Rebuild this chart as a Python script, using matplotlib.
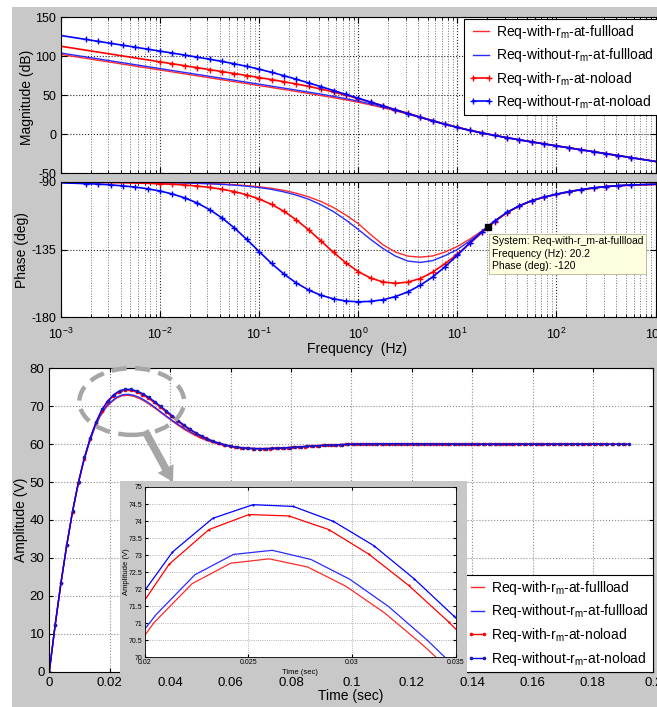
import numpy as np
import matplotlib
matplotlib.use("Agg")
import matplotlib.pyplot as plt
from matplotlib.patches import Rectangle, Ellipse
from matplotlib.lines import Line2D
from matplotlib.ticker import LogLocator, NullFormatter, MultipleLocator, FuncFormatter

plt.rcParams.update({
    "font.family": ["Liberation Sans", "DejaVu Sans"],
    "mathtext.fontset": "custom",
    "mathtext.rm": "Liberation Sans",
    "mathtext.it": "Liberation Sans",
    "mathtext.default": "regular",
    "axes.unicode_minus": False,
})

# ---------------------------------------------------------------- data
labels = [
    "Req-with-r$_{m}$-at-fullload",
    "Req-without-r$_{m}$-at-fullload",
    "Req-with-r$_{m}$-at-noload",
    "Req-without-r$_{m}$-at-noload",
]

# Bode data, one point every 1/8 decade from 1e-3 Hz to 1e3 Hz
freq_hz = np.logspace(-3, 3, 49)

mag_with_full = [102.3, 99.8, 97.3, 94.8, 92.3, 89.8, 87.3, 84.8, 82.3, 79.8,
                 77.3, 74.8, 72.3, 69.8, 67.29, 64.79, 62.28, 59.77, 57.24, 54.70,
                 52.13, 49.50, 46.77, 43.90, 40.84, 37.48, 33.80, 29.79, 25.54, 21.15,
                 16.75, 12.48, 8.44, 4.70, 1.31, -1.81, -4.69, -7.43, -10.06, -12.64,
                 -15.19, -17.62, -20.13, -22.64, -25.14, -27.65, -30.15, -32.65, -35.15]
mag_without_full = [104.1, 101.6, 99.1, 96.6, 94.1, 91.6, 89.1, 86.6, 84.1, 81.6,
                    79.1, 76.6, 74.1, 71.6, 69.09, 66.59, 64.08, 61.56, 59.03, 56.47,
                    53.88, 51.21, 48.43, 45.47, 42.28, 38.76, 34.91, 30.75, 26.37, 21.87,
                    17.38, 13.02, 8.88, 5.05, 1.56, -1.62, -4.55, -7.32, -9.98, -12.58,
                    -15.13, -17.66, -20.18, -22.69, -25.19, -27.70, -30.20, -32.70, -35.20]
mag_with_no = [112.8, 110.3, 107.8, 105.3, 102.8, 100.3, 97.8, 95.3, 92.8, 90.3,
               87.79, 85.29, 82.78, 80.27, 77.74, 75.2, 72.62, 69.98, 67.24, 64.35,
               61.23, 57.81, 54.05, 49.93, 45.55, 40.95, 36.21, 31.42, 26.62, 21.87,
               17.25, 12.84, 8.70, 4.91, 1.47, -1.67, -4.58, -7.32, -9.97, -12.55,
               -15.10, -17.63, -20.14, -22.65, -25.16, -27.66, -30.16, -32.66, -35.16]
mag_without_no = [126.6, 124.1, 121.6, 119.1, 116.6, 114.09, 111.58, 109.07, 106.55, 104.01,
                  101.45, 98.83, 96.13, 93.30, 90.27, 86.96, 83.31, 79.31, 74.99, 70.43,
                  65.69, 60.85, 55.94, 50.99, 46.05, 41.10, 36.15, 31.23, 26.37, 21.60,
                  16.98, 12.58, 8.47, 4.72, 1.31, -1.80, -4.68, -7.41, -10.05, -12.63,
                  -15.17, -17.70, -20.21, -22.72, -25.22, -27.73, -30.23, -32.73, -35.23]

ph_with_full = [-90.0, -90.0, -90.1, -90.1, -90.1, -90.1, -90.2, -90.2, -90.3, -90.4,
                -90.6, -90.75, -91.0, -91.3, -91.8, -92.4, -93.2, -94.2, -95.6, -97.5,
                -99.9, -103.0, -107.0, -112.0, -117.7, -125.0, -131.8, -136.6, -139.3, -140.0,
                -139.2, -136.6, -132.9, -128.0, -122.5, -116.2, -110.3, -105.9, -102.5, -100.1,
                -98.2, -96.5, -95.1, -94.0, -93.1, -92.5, -92.1, -91.8, -91.6]
ph_without_full = [-90.0, -90.1, -90.1, -90.1, -90.1, -90.2, -90.2, -90.3, -90.4, -90.5,
                   -90.7, -90.9, -91.2, -91.6, -92.1, -92.8, -93.7, -94.9, -96.6, -98.7,
                   -101.5, -105.2, -109.7, -115.3, -121.6, -128.2, -134.3, -139.3, -142.6, -143.5,
                   -142.3, -139.0, -134.9, -129.2, -123.0, -116.1, -110.3, -105.8, -102.4, -100.0,
                   -98.1, -96.4, -95.0, -93.9, -93.0, -92.4, -92.0, -91.7, -91.5]
ph_with_no = [-90.1, -90.2, -90.2, -90.3, -90.4, -90.5, -90.7, -90.9, -91.2, -91.5,
              -92.0, -92.7, -93.6, -94.8, -96.4, -98.5, -101.3, -104.9, -109.5, -115.2,
              -121.9, -129.3, -136.8, -143.8, -149.6, -153.9, -156.5, -157.4, -156.6, -154.2,
              -150.0, -144.3, -138.0, -130.8, -123.5, -116.4, -110.4, -105.9, -102.5, -100.1,
              -98.2, -96.5, -95.1, -94.0, -93.1, -92.5, -92.1, -91.8, -91.6]
ph_without_no = [-90.6, -90.8, -91.1, -91.4, -91.9, -92.6, -93.4, -94.5, -96.0, -98.0,
                 -100.6, -104.0, -108.4, -113.9, -120.6, -128.2, -136.3, -144.2, -151.3, -157.2,
                 -161.9, -165.4, -167.7, -169.2, -169.7, -169.4, -168.3, -166.2, -163.1, -158.7,
                 -153.2, -146.4, -138.7, -130.6, -123.0, -116.0, -110.2, -105.8, -102.4, -100.0,
                 -98.1, -96.4, -95.0, -93.9, -93.0, -92.4, -92.0, -91.7, -91.5]

tip_freq = 20.2
tip_phase = -120

# Step responses (V), sampled with the solver step of each model
dt_with_full, dt_without_full = 0.001857, 0.001868
dt_with_no, dt_without_no = 0.001925, 0.00194

step_with_full = [0.0, 11.8, 22.6, 32.4, 41.1, 48.6, 54.8, 59.8, 64.0, 67.2,
                  69.4, 71.0, 72.16, 72.76, 72.89, 72.65, 72.08, 71.30, 70.35, 69.30,
                  68.20, 67.10, 66.00, 64.95, 63.95, 63.10, 62.30, 61.60, 61.00, 60.50,
                  60.08, 59.73, 59.45, 59.22, 59.05, 58.93, 58.85, 58.82, 58.82, 58.85,
                  58.90, 58.97, 59.06, 59.15, 59.25, 59.34, 59.44, 59.53, 59.62, 59.69,
                  59.77, 59.84, 59.89, 59.94, 59.98, 60.02, 60.04, 60.07, 60.08, 60.09,
                  60.10, 60.10, 60.10, 60.10, 60.09, 60.08, 60.07, 60.06, 60.05, 60.04,
                  60.03, 60.02, 60.01, 60.00, 60.00, 59.99, 59.99, 59.99, 59.99, 60.00,
                  60.00, 60.00, 60.00, 60.00, 60.00, 60.00, 60.00, 60.00, 60.00, 60.00,
                  60.00, 60.00, 60.00, 60.00, 60.00, 60.00, 60.00, 60.00, 60.00, 60.00]
step_without_full = [0.0, 11.9, 22.8, 32.6, 41.3, 48.8, 55.0, 60.0, 64.2, 67.5,
                     69.8, 71.25, 72.42, 73.02, 73.14, 72.87, 72.29, 71.49, 70.50, 69.40,
                     68.23, 67.11, 66.03, 65.02, 64.08, 63.26, 62.45, 61.74, 61.13, 60.60,
                     60.17, 59.79, 59.50, 59.26, 59.07, 58.94, 58.85, 58.82, 58.82, 58.85,
                     58.90, 58.97, 59.06, 59.15, 59.25, 59.34, 59.44, 59.53, 59.62, 59.69,
                     59.77, 59.84, 59.89, 59.94, 59.98, 60.02, 60.04, 60.07, 60.08, 60.09,
                     60.10, 60.10, 60.10, 60.10, 60.09, 60.08, 60.07, 60.06, 60.05, 60.04,
                     60.03, 60.02, 60.01, 60.00, 60.00, 59.99, 59.99, 59.99, 59.99, 60.00,
                     60.00, 60.00, 60.00, 60.00, 60.00, 60.00, 60.00, 60.00, 60.00, 60.00,
                     60.00, 60.00, 60.00, 60.00, 60.00, 60.00, 60.00, 60.00, 60.00, 60.00]
step_with_no = [0.0, 12.2, 23.3, 33.3, 42.2, 49.8, 56.2, 61.4, 65.5, 68.8,
                71.0, 72.73, 73.75, 74.19, 74.15, 73.75, 73.03, 72.11, 71.04, 69.85,
                68.60, 67.35, 66.12, 64.95, 63.95, 63.07, 62.24, 61.54, 60.89, 60.34,
                59.90, 59.55, 59.28, 59.07, 58.93, 58.85, 58.82, 58.81, 58.83, 58.89,
                58.99, 59.08, 59.18, 59.28, 59.38, 59.47, 59.57, 59.65, 59.73, 59.80,
                59.87, 59.92, 59.96, 60.00, 60.03, 60.06, 60.08, 60.09, 60.10, 60.10,
                60.10, 60.10, 60.09, 60.08, 60.07, 60.06, 60.05, 60.04, 60.03, 60.02,
                60.01, 60.00, 60.00, 59.99, 59.99, 59.99, 59.99, 59.99, 60.00, 60.00,
                60.00, 60.00, 60.00, 60.00, 60.00, 60.00, 60.00, 60.00, 60.00, 60.00,
                60.00, 60.00, 60.00, 60.00, 60.00, 60.00, 60.00, 60.00, 60.00, 60.00]
step_without_no = [0.0, 12.3, 23.5, 33.5, 42.5, 50.1, 56.5, 61.7, 65.9, 69.2,
                   71.45, 73.09, 74.08, 74.48, 74.43, 73.99, 73.28, 72.31, 71.20, 70.00,
                   68.75, 67.45, 66.20, 65.00, 63.95, 62.98, 62.12, 61.38, 60.75, 60.23,
                   59.80, 59.47, 59.21, 59.02, 58.90, 58.83, 58.81, 58.82, 58.87, 58.93,
                   59.02, 59.11, 59.21, 59.31, 59.41, 59.51, 59.60, 59.68, 59.76, 59.83,
                   59.89, 59.94, 59.98, 60.02, 60.04, 60.07, 60.08, 60.09, 60.10, 60.10,
                   60.10, 60.09, 60.08, 60.07, 60.06, 60.05, 60.04, 60.03, 60.02, 60.01,
                   60.00, 60.00, 59.99, 59.99, 59.99, 59.99, 59.99, 59.99, 60.00, 60.00,
                   60.00, 60.00, 60.00, 60.00, 60.00, 60.00, 60.00, 60.00, 60.00, 60.00,
                   60.00, 60.00, 60.00, 60.00, 60.00, 60.00, 60.00, 60.00, 60.00, 60.00]

# ---------------------------------------------------------------- layout helpers
W, H = 657, 707
GRAY = "#c8c8c8"


def fx(px):
    return px / W


def fy(py):
    return 1 - py / H


def box(x0, y0, x1, y1):
    return [fx(x0), fy(y1), (x1 - x0) / W, (y1 - y0) / H]


fig = plt.figure(figsize=(W / 100, H / 100), dpi=100)
fig.patch.set_facecolor("white")
fig.add_artist(Rectangle((fx(12), 0), (W - 12) / W, fy(7), transform=fig.transFigure,
                         fc=GRAY, ec="none", zorder=-10))

RED, BLUE = "#ff0000", "#0000ff"
bode_styles = [
    dict(color="#ff2a2a", lw=1.0),
    dict(color="#2a2aff", lw=1.0),
    dict(color=RED, lw=1.2, marker="+", ms=5, mew=1.0, markevery=slice(8, 47)),
    dict(color=BLUE, lw=1.2, marker="+", ms=5, mew=1.0, markevery=slice(2, 47)),
]

# ---------------------------------------------------------------- Bode diagram
ax_mag = fig.add_axes(box(61, 17.3, 655.6, 173))
ax_ph = fig.add_axes(box(61, 182, 655.6, 317.3))

mags = [mag_with_full, mag_without_full, mag_with_no, mag_without_no]
phases = [ph_with_full, ph_without_full, ph_with_no, ph_without_no]
for m, p, st, lab in zip(mags, phases, bode_styles, labels):
    ax_mag.plot(freq_hz, m, label=lab, **st)
    ax_ph.plot(freq_hz, p, **st)

for ax in (ax_mag, ax_ph):
    ax.set_xscale("log")
    ax.set_xlim(1e-3, 1e3)
    ax.xaxis.set_major_locator(LogLocator(base=10, numticks=100))
    ax.xaxis.set_minor_locator(LogLocator(base=10, subs=np.arange(2, 10), numticks=100))
    ax.xaxis.set_minor_formatter(NullFormatter())
    ax.grid(True, which="major", ls=":", color="0.15", lw=0.8)
    ax.grid(True, which="minor", axis="x", ls=":", color="0.45", lw=0.7)
    ax.tick_params(which="both", direction="in", top=True, right=True, labelsize=9)
    ax.tick_params(which="major", length=4)
    ax.tick_params(which="minor", length=2)
    for s in ax.spines.values():
        s.set_linewidth(0.8)

ax_mag.set_ylim(-50, 150)
ax_mag.set_yticks([-50, 0, 50, 100, 150])
ax_mag.tick_params(labelbottom=False)
ax_ph.set_ylim(-180, -90)
ax_ph.set_yticks([-180, -135, -90])
ax_ph.tick_params(axis="x", pad=6.5)

fig.text(fx(27), fy(97), "Magnitude (dB)", rotation=90, ha="center", va="center", fontsize=10)
fig.text(fx(22.5), fy(250), "Phase (deg)", rotation=90, ha="center", va="center", fontsize=10)
fig.text(fx(357), fy(349), "Frequency  (Hz)", ha="center", va="center", fontsize=10)

ax_mag.legend(loc="upper left", bbox_to_anchor=(fx(464.3), fy(19)), bbox_transform=fig.transFigure,
              borderaxespad=0, fontsize=10, handlelength=1.75, handletextpad=0.2,
              borderpad=0.3, labelspacing=0.38, numpoints=2, fancybox=False,
              edgecolor="k", framealpha=1).get_frame().set_linewidth(0.8)

ax_ph.plot([tip_freq], [tip_phase], marker="s", color="k", ms=4, zorder=6)
fig.text(fx(492), fy(236.5),
         f"System: Req-with-r_m-at-fullload\nFrequency (Hz): {tip_freq}\nPhase (deg): {tip_phase}",
         ha="left", va="top", fontsize=7.5, linespacing=1.3, zorder=7,
         bbox=dict(boxstyle="square,pad=0.25", fc="#ffffe1", ec="#b4b496", lw=0.6))

# ---------------------------------------------------------------- step response
ax_t = fig.add_axes(box(49.3, 368.3, 653.3, 671.7))
steps = [step_with_full, step_without_full, step_with_no, step_without_no]
dts = [dt_with_full, dt_without_full, dt_with_no, dt_without_no]
step_styles = [
    dict(color="#ff2a2a", lw=1.0),
    dict(color="#2a2aff", lw=1.0),
    dict(color=RED, lw=1.0, marker="o", ms=2.6, mec="none"),
    dict(color=BLUE, lw=1.0, marker="o", ms=2.6, mec="none", mfc="#1a1ab4"),
]
times = [np.arange(len(s)) * d for s, d in zip(steps, dts)]
for t, s, st in zip(times, steps, step_styles):
    ax_t.plot(t, s, **st)

ax_t.set_xlim(0, 0.2)
ax_t.set_ylim(0, 80)
ax_t.xaxis.set_major_locator(MultipleLocator(0.02))
ax_t.yaxis.set_major_locator(MultipleLocator(10))
fmt_g = FuncFormatter(lambda v, p: f"{v:g}")
ax_t.xaxis.set_major_formatter(fmt_g)
ax_t.grid(True, ls=":", color="0.55", lw=0.8)
ax_t.tick_params(direction="in", top=True, right=True, labelsize=9.5, length=3)
ax_t.tick_params(axis="x", pad=4)
for s in ax_t.spines.values():
    s.set_linewidth(0.8)
fig.text(fx(21), fy(520), "Amplitude (V)", rotation=90, ha="center", va="center", fontsize=10)
fig.text(fx(351), fy(696), "Time (sec)", ha="center", va="center", fontsize=10)

# callout around the overshoot
ax_t.add_patch(Ellipse((0.02729, 71.24), 0.03467, 17.6, fill=False, ec="#a6a6a6", lw=3.2,
                       ls=(0, (3.4, 1.9)), clip_on=False, zorder=6))
ax_t.annotate("", xy=(173, H - 482), xycoords="figure pixels",
              xytext=(145, H - 431), textcoords="figure pixels",
              arrowprops=dict(arrowstyle="simple,head_length=1.1,head_width=1.3,tail_width=0.55",
                              fc="#a6a6a6", ec="none", mutation_scale=10, shrinkA=0, shrinkB=0),
              annotation_clip=False, zorder=6)

proxies = []
for st in step_styles:
    kw = {k: v for k, v in st.items()}
    if "marker" in kw:
        kw["markevery"] = [1]
    proxies.append(Line2D([], [], **kw))
ax_t.legend(proxies, labels, loc="lower right", bbox_to_anchor=(fx(653.3), fy(671.7)),
            bbox_transform=fig.transFigure, borderaxespad=0, fontsize=10, handlelength=1.55,
            handletextpad=0.2, borderpad=0.3, labelspacing=0.4, numpoints=2, fancybox=False,
            edgecolor="k", framealpha=1).get_frame().set_linewidth(0.8)

# ---------------------------------------------------------------- zoomed inset
fig.add_artist(Rectangle((fx(120), fy(677)), (467 - 120) / W, (677 - 481) / H,
                         transform=fig.transFigure, fc=GRAY, ec="none", zorder=4))
ax_in = fig.add_axes(box(144.7, 487, 455.8, 657.2))
ax_in.set_zorder(5)
inset_styles = [
    dict(color="#ff2a2a", lw=0.9),
    dict(color="#2a2aff", lw=0.9),
    dict(color=RED, lw=0.9, marker="o", ms=1.6, mec="none"),
    dict(color=BLUE, lw=0.9, marker="o", ms=1.6, mec="none"),
]
for t, s, st in zip(times, steps, inset_styles):
    ax_in.plot(t, s, **st)
ax_in.set_xlim(0.02, 0.035)
ax_in.set_ylim(70, 75)
ax_in.xaxis.set_major_locator(MultipleLocator(0.005))
ax_in.yaxis.set_major_locator(MultipleLocator(0.5))
ax_in.xaxis.set_major_formatter(fmt_g)
ax_in.yaxis.set_major_formatter(fmt_g)
ax_in.grid(True, ls=":", color="0.6", lw=0.6)
ax_in.tick_params(direction="in", top=True, right=True, labelsize=5, length=2, pad=1.5)
for s in ax_in.spines.values():
    s.set_linewidth(0.6)
fig.text(fx(126), fy(572), "Amplitude (V)", rotation=90, ha="center", va="center",
         fontsize=5.5, zorder=6)
fig.text(fx(300), fy(672.5), "Time (sec)", ha="center", va="center", fontsize=5.5, zorder=6)

fig.savefig("out.png", dpi=100)
